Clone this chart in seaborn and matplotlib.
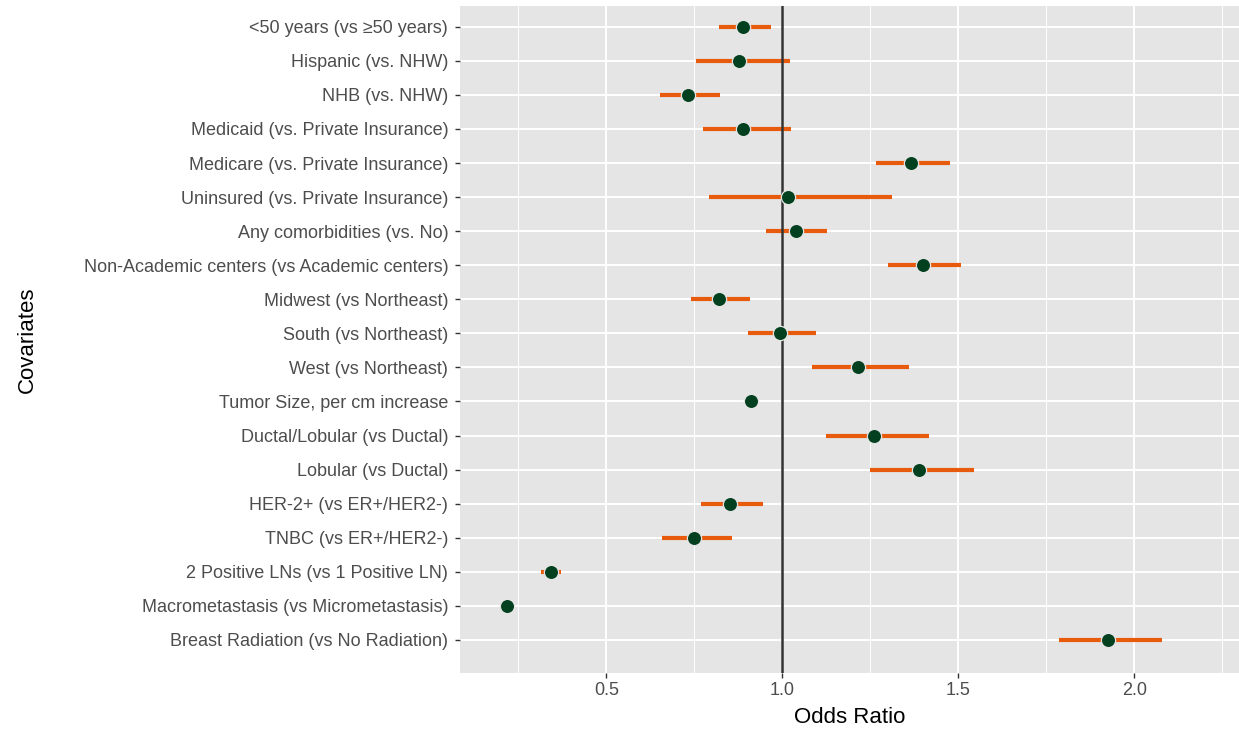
import matplotlib
matplotlib.use("Agg")
import matplotlib.pyplot as plt
import seaborn as sns
import pandas as pd
import numpy as np
from matplotlib.ticker import MultipleLocator

covariates = [
    "<50 years (vs ≥50 years)",
    "Hispanic (vs. NHW)",
    "NHB (vs. NHW)",
    "Medicaid (vs. Private Insurance)",
    "Medicare (vs. Private Insurance)",
    "Uninsured (vs. Private Insurance)",
    "Any comorbidities (vs. No)",
    "Non-Academic centers (vs Academic centers)",
    "Midwest (vs Northeast)",
    "South (vs Northeast)",
    "West (vs Northeast)",
    "Tumor Size, per cm increase",
    "Ductal/Lobular (vs Ductal)",
    "Lobular (vs Ductal)",
    "HER-2+ (vs ER+/HER2-)",
    "TNBC (vs ER+/HER2-)",
    "2 Positive LNs (vs 1 Positive LN)",
    "Macrometastasis (vs Micrometastasis)",
    "Breast Radiation (vs No Radiation)",
]
odds_ratio = [0.889, 0.877, 0.732, 0.889, 1.366, 1.017, 1.038, 1.399, 0.819, 0.993,
              1.214, 0.910, 1.261, 1.389, 0.852, 0.749, 0.342, 0.217, 1.926]
ci_lower = [0.819, 0.754, 0.651, 0.773, 1.265, 0.790, 0.954, 1.299, 0.740, 0.902,
            1.084, 0.900, 1.123, 1.250, 0.768, 0.658, 0.315, 0.212, 1.785]
ci_upper = [0.967, 1.021, 0.824, 1.024, 1.477, 1.310, 1.126, 1.508, 0.908, 1.095,
            1.360, 0.920, 1.417, 1.543, 0.944, 0.856, 0.372, 0.222, 2.078]

df = pd.DataFrame({"Covariates": covariates, "OR": odds_ratio,
                   "lo": ci_lower, "hi": ci_upper})

sns.set_theme(style="darkgrid", rc={
    "axes.facecolor": "#E5E5E5",
    "grid.color": "white",
    "axes.edgecolor": "white",
})
plt.rcParams["font.family"] = ["Liberation Sans", "DejaVu Sans"]

fig = plt.figure(figsize=(12.39, 7.30), dpi=100)
ax = fig.add_axes([460 / 1239, 1 - 673 / 730, 1 - 460 / 1239, (673 - 6) / 730])

ypos = np.arange(len(df))
ax.hlines(ypos, df["lo"], df["hi"], color="#E85A0C", linewidth=3.0, zorder=3)
ax.axvline(1.0, color="#333333", linewidth=1.8, zorder=4)
sns.scatterplot(x=df["OR"], y=ypos, ax=ax, color="#03401F", s=105,
                edgecolor="#E5E5E5", linewidth=0.9, zorder=5, legend=False)

ax.set_yticks(ypos)
ax.set_yticklabels(df["Covariates"])
ax.set_ylim(18.97, -0.61)
ax.set_xlim(0.084, 2.297)
ax.xaxis.set_minor_locator(MultipleLocator(0.25))
ax.set_xticks([0.5, 1.0, 1.5, 2.0])
ax.set_xticklabels(["0.5", "1.0", "1.5", "2.0"])
ax.grid(True, which="major", color="white", linewidth=1.4)
ax.grid(True, which="minor", axis="x", color="white", linewidth=0.7)
for s in ax.spines.values():
    s.set_visible(False)

ax.tick_params(axis="both", which="major", length=3.5, width=1.0, color="#333333",
               labelsize=13, labelcolor="#4D4D4D", pad=3, left=True, bottom=True)
ax.tick_params(axis="y", which="major", pad=5)
ax.tick_params(axis="x", which="minor", length=0)
ax.set_xlabel("Odds Ratio", fontsize=16, color="black", labelpad=6)
ax.set_ylabel("Covariates", fontsize=16, color="black", labelpad=33)

fig.savefig("out.png", dpi=100)
